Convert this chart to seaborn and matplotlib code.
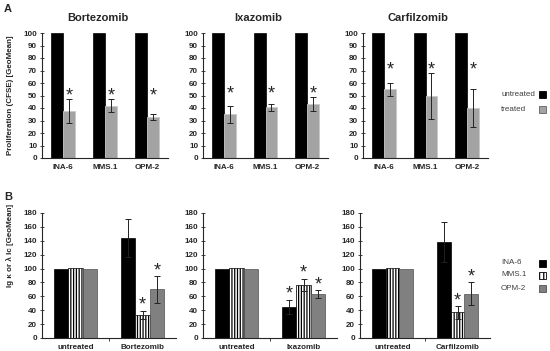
import numpy as np
import pandas as pd
import matplotlib.pyplot as plt
import seaborn as sns
from matplotlib.patches import Rectangle

drugs = ['Bortezomib', 'Ixazomib', 'Carfilzomib']
cell_lines = ['INA-6', 'MMS.1', 'OPM-2']
conditions_a = ['untreated', 'treated']

# A: proliferation (CFSE), untreated = 100
untreated_a = [100, 100, 100]
bortezomib_a = [37.5, 42, 33]
bortezomib_a_err = [9.5, 5, 2.5]
ixazomib_a = [35, 40.5, 43.5]
ixazomib_a_err = [7, 2.5, 5.5]
carfilzomib_a = [55, 49.5, 40]
carfilzomib_a_err = [5, 18.5, 15]

# B: Ig light chain, untreated = 100
untreated_b = [100, 100.5, 100]
bortezomib_b = [144, 33, 70]
bortezomib_b_err = [28, 6, 19]
ixazomib_b = [45, 76, 63]
ixazomib_b_err = [10, 9, 6]
carfilzomib_b = [138, 37, 64]
carfilzomib_b_err = [29, 9, 16]
stars_b = [[False, True, True], [True, True, True], [False, True, True]]

sns.set_style('ticks')
plt.rcParams['font.family'] = ['Liberation Sans', 'DejaVu Sans']
plt.rcParams['hatch.linewidth'] = 0.9

fig = plt.figure(figsize=(5.5, 3.51), dpi=100)
W, H = 550, 351


def px_axes(x0, y_top, x1, y_bot):
    return fig.add_axes([x0 / W, 1 - y_bot / H, (x1 - x0) / W, (y_bot - y_top) / H])


def style_axes(ax, ymax, step):
    ax.set_ylim(0, ymax)
    ax.set_yticks(np.arange(0, ymax + 1, step))
    sns.despine(ax=ax)
    for s in ['left', 'bottom']:
        ax.spines[s].set_linewidth(0.8)
    ax.tick_params(axis='y', direction='inout', length=3, width=0.6, pad=2, labelsize=5.8)
    ax.tick_params(axis='x', which='major', length=0, pad=4, labelsize=5.8)
    for lab in ax.get_xticklabels() + ax.get_yticklabels():
        lab.set_fontweight('bold')
    ax.set_xlabel('')
    ax.set_ylabel('')


def star(ax, x, y, lift):
    ax.annotate('*', (x, y), xytext=(0, lift), textcoords='offset points',
                ha='center', va='center', fontsize=13)


def panel_a(ax, title, treated, err):
    df = pd.DataFrame({'cell': cell_lines * 2,
                       'cond': ['untreated'] * 3 + ['treated'] * 3,
                       'value': untreated_a + treated})
    sns.barplot(data=df, x='cell', y='value', hue='cond', hue_order=conditions_a,
                palette=['black', '#a3a3a3'], saturation=1, width=0.57,
                errorbar=None, legend=False, ax=ax)
    for p in ax.containers[0]:
        p.set_edgecolor('black')
        p.set_linewidth(0.5)
    for p in ax.containers[1]:
        p.set_edgecolor('#c8c8c8')
        p.set_linewidth(0.6)
    xs = [p.get_x() + p.get_width() / 2 for p in ax.containers[1]]
    ax.errorbar(xs, treated, yerr=err, fmt='none', ecolor='#222222',
                elinewidth=0.7, capsize=2, capthick=0.7)
    top = max(v + e for v, e in zip(treated, err))
    for x in xs:
        star(ax, x, top, 2)
    ax.set_xlim(-0.5, 2.5)
    style_axes(ax, 100, 10)
    ax.text(0.44, 1.12, title, transform=ax.transAxes, ha='center', va='center',
            fontsize=8, fontweight='bold')


def panel_b(ax, drug, treated, err, stars):
    df = pd.DataFrame({'cond': ['untreated'] * 3 + [drug] * 3,
                       'cell': cell_lines * 2,
                       'value': untreated_b + treated})
    sns.barplot(data=df, x='cond', y='value', hue='cell', hue_order=cell_lines,
                palette=['black', 'white', '#808080'], saturation=1, width=0.64,
                errorbar=None, legend=False, ax=ax)
    for i, cont in enumerate(ax.containers):
        for p in cont:
            p.set_edgecolor('black' if i < 2 else '#505050')
            p.set_linewidth(0.5)
            if i == 1:
                p.set_hatch('||||||')
    bars = [cont[1] for cont in ax.containers]
    xs = [p.get_x() + p.get_width() / 2 for p in bars]
    ax.errorbar(xs, treated, yerr=err, fmt='none', ecolor='#222222',
                elinewidth=0.7, capsize=2, capthick=0.7)
    for x, v, e, s in zip(xs, treated, err, stars):
        if s:
            star(ax, x, v + e, 4)
    ax.set_xlim(-0.5, 1.5)
    style_axes(ax, 180, 20)
    ax.set_xticks([0.5], minor=True)
    ax.tick_params(axis='x', which='minor', length=2, width=0.6, direction='out')


# panel A
axes_a = [px_axes(42, 33, 168, 158), px_axes(203, 33, 328, 158), px_axes(363, 33, 488, 158)]
panel_a(axes_a[0], drugs[0], bortezomib_a, bortezomib_a_err)
panel_a(axes_a[1], drugs[1], ixazomib_a, ixazomib_a_err)
panel_a(axes_a[2], drugs[2], carfilzomib_a, carfilzomib_a_err)
axes_a[0].set_ylabel('Proliferation (CFSE) [GeoMean]', fontsize=5.8, fontweight='bold')
axes_a[0].yaxis.set_label_coords(-0.22, 0.5)

# panel B
axes_b = [px_axes(42, 213, 176, 338), px_axes(203, 213, 337, 338), px_axes(360, 213, 490, 338)]
panel_b(axes_b[0], drugs[0], bortezomib_b, bortezomib_b_err, stars_b[0])
panel_b(axes_b[1], drugs[1], ixazomib_b, ixazomib_b_err, stars_b[1])
panel_b(axes_b[2], drugs[2], carfilzomib_b, carfilzomib_b_err, stars_b[2])
axes_b[0].set_ylabel('Ig κ or λ lc [GeoMean]', fontsize=5.8, fontweight='bold')
axes_b[0].yaxis.set_label_coords(-0.21, 0.74)

fig.text(4 / W, 1 - 9 / H, 'A', fontsize=8, fontweight='bold', va='center')
fig.text(4 / W, 1 - 197 / H, 'B', fontsize=8, fontweight='bold', va='center')


# legends: label on the left, swatch on the right
def legend_entry(label, y, face, edge, hatch=None):
    fig.text(501 / W, 1 - y / H, label, fontsize=5.8, color='#404040', va='center')
    fig.add_artist(Rectangle((539 / W, 1 - (y + 3.5) / H), 7 / W, 7 / H,
                             transform=fig.transFigure, facecolor=face,
                             edgecolor=edge, linewidth=0.6, hatch=hatch))


legend_entry(conditions_a[0], 94, 'black', 'black')
legend_entry(conditions_a[1], 109, '#a3a3a3', '#606060')
legend_entry(cell_lines[0], 263, 'black', 'black')
legend_entry(cell_lines[1], 275, 'white', 'black', '||||')
legend_entry(cell_lines[2], 288, '#808080', '#505050')

fig.savefig('out.png', dpi=100)
